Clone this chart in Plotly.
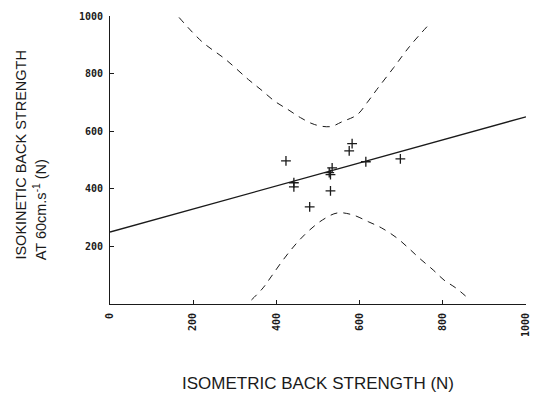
import plotly.graph_objects as go

# Observed data points (isometric N, isokinetic N)
iso_metric = [423, 442, 442, 480, 527, 530, 534, 530, 575, 582, 615, 698]
iso_kinetic = [497, 421, 407, 337, 456, 449, 473, 393, 532, 557, 494, 504]

# Regression line
fit_x = [0, 1000]
fit_y = [250, 650]

# Upper prediction band
upper_x = [166, 221, 278, 333, 363, 397, 428, 458, 492, 530, 558, 594, 618, 641, 682, 720, 762]
upper_y = [995, 911, 849, 779, 744, 703, 675, 647, 623, 616, 633, 657, 699, 744, 821, 894, 963]

# Lower prediction band
lower_x = [340, 368, 387, 411, 435, 456, 480, 511, 546, 582, 622, 653, 689, 717, 743, 777, 803, 831, 860]
lower_y = [14, 56, 94, 143, 188, 223, 257, 292, 316, 310, 285, 264, 230, 195, 160, 118, 83, 56, 21]

x_ticks = [0, 200, 400, 600, 800, 1000]
y_ticks = [200, 400, 600, 800, 1000]

x_title = "ISOMETRIC BACK STRENGTH (N)"
y_title_1 = "ISOKINETIC BACK STRENGTH"
y_title_2 = "AT 60cm.s<sup>-1</sup> (N)"

ink = "#1a1a1a"

fig = go.Figure()
fig.add_trace(go.Scatter(x=upper_x, y=upper_y, mode="lines", line=dict(color=ink, width=1, dash="7px,6px", shape="spline"), showlegend=False))
fig.add_trace(go.Scatter(x=lower_x, y=lower_y, mode="lines", line=dict(color=ink, width=1, dash="7px,6px", shape="spline"), showlegend=False))
fig.add_trace(go.Scatter(x=fit_x, y=fit_y, mode="lines", line=dict(color=ink, width=1.3), showlegend=False))
fig.add_trace(go.Scatter(x=iso_metric, y=iso_kinetic, mode="markers",
                         marker=dict(symbol="cross-thin", size=7, line=dict(color=ink, width=1.3)), showlegend=False))

tickfont = dict(family="DejaVu Sans Mono", size=10, color=ink, weight="bold")
titlefont = dict(family="Liberation Sans, Arial", size=14.5, color=ink)

W, L, T, H = 421, 110, 16, 288


def px_to_paper(px, py):
    return (px - L) / W, (T + H - py) / H


xt = px_to_paper(321, 383)
yt1 = px_to_paper(19, 262)
yt2 = px_to_paper(39, 262)

fig.update_layout(
    width=540, height=396,
    margin=dict(l=110, r=9, t=16, b=92),
    paper_bgcolor="white", plot_bgcolor="white",
    xaxis=dict(range=[0, 1000], tickvals=x_ticks, ticktext=[str(v) for v in x_ticks], tickangle=-90,
               ticks="inside", ticklen=4, tickcolor=ink, showline=True, linecolor=ink, linewidth=1,
               showgrid=False, zeroline=False, tickfont=tickfont, ticklabelstandoff=4),
    yaxis=dict(range=[0, 1000], tickvals=y_ticks, ticktext=[str(v) for v in y_ticks],
               ticks="inside", ticklen=4, tickcolor=ink, showline=True, linecolor=ink, linewidth=1,
               showgrid=False, zeroline=False, tickfont=tickfont, ticklabelstandoff=4),
    annotations=[
        dict(text=x_title, xref="paper", yref="paper", x=xt[0], y=xt[1],
             xanchor="center", yanchor="middle", showarrow=False,
             font=dict(family="Liberation Sans, Arial", size=17, color=ink)),
        dict(text=y_title_1, xref="paper", yref="paper", x=yt1[0], y=yt1[1],
             xanchor="center", yanchor="bottom", textangle=-90, showarrow=False, font=titlefont),
        dict(text=y_title_2, xref="paper", yref="paper", x=yt2[0], y=yt2[1],
             xanchor="center", yanchor="bottom", textangle=-90, showarrow=False, font=titlefont),
    ],
)

fig.write_html("out.html")
